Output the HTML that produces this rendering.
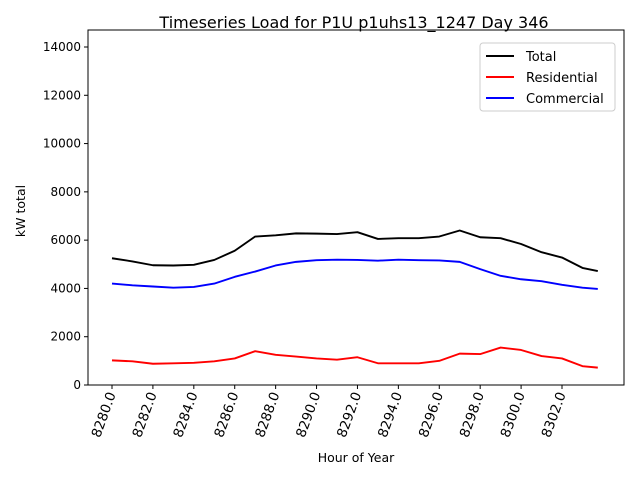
<!DOCTYPE html>
<html><head><meta charset="utf-8"><style>
body{margin:0;background:#fff;font-family:"Liberation Sans","DejaVu Sans",sans-serif}
svg text{font-family:"DejaVu Sans","Liberation Sans",sans-serif}
</style></head><body>
<svg id="chart" width="640" height="480" xmlns="http://www.w3.org/2000/svg">
<rect width="640" height="480" fill="#fff"/>
<g id="plot"></g>
</svg>
<script>
const hours=[8280,8281,8282,8283,8284,8285,8286,8287,8288,8289,8290,8291,8292,8293,8294,8295,8296,8297,8298,8299,8300,8301,8302,8303,8303.75];
const totalKw=[5250,5120,4960,4950,4980,5180,5560,6150,6200,6280,6270,6250,6330,6050,6080,6080,6150,6400,6120,6080,5840,5500,5280,4850,4720];
const residentialKw=[1020,980,880,900,920,980,1100,1400,1250,1180,1100,1050,1150,900,900,900,1000,1300,1280,1550,1450,1200,1100,780,720];
const commercialKw=[4200,4130,4080,4030,4060,4200,4480,4700,4950,5100,5170,5190,5180,5150,5190,5170,5160,5100,4800,4520,4380,4300,4150,4030,3980];
const xTicks=[8280,8282,8284,8286,8288,8290,8292,8294,8296,8298,8300,8302];
const yTicks=[0,2000,4000,6000,8000,10000,12000,14000];
const L=88,R=624,T=30,B=385;
const X=v=>112+(v-8280)*(562-112)/22;
const Y=v=>385-v*(385-47)/14000;
const NS="http://www.w3.org/2000/svg";
const g=document.getElementById('plot');
function mk(tag,attrs,parent){const e=document.createElementNS(NS,tag);for(const k in attrs)e.setAttribute(k,attrs[k]);(parent||g).appendChild(e);return e;}
function series(vals,color,name){
  const p=mk('polyline',{points:vals.map((v,i)=>X(hours[i])+','+Y(v)).join(' '),fill:'none',stroke:color,'stroke-width':1.9,'stroke-linejoin':'round'});
  
  
}
series(totalKw,'#000','total-line');
series(residentialKw,'#f00','residential-line');
series(commercialKw,'#00f','commercial-line');
const frame=mk('rect',{x:L,y:T,width:R-L,height:B-T,fill:'none',stroke:'#000','stroke-width':1});


xTicks.forEach(t=>{
  const x=X(t);
  mk('line',{x1:x,y1:B,x2:x,y2:B+4,stroke:'#000'});
  const tx=mk('text',{x:0,y:0,'font-size':13.5,'text-anchor':'end',transform:`translate(${x+4},${B+9}) rotate(-70)`});
  tx.textContent=t.toFixed(1);
  
  
});
yTicks.forEach(t=>{
  const y=Y(t);
  mk('line',{x1:L-4,y1:y,x2:L,y2:y,stroke:'#000'});
  const tx=mk('text',{x:L-7,y:y+4,'font-size':12,'text-anchor':'end'});
  tx.textContent=t;
  
  
});
const title=mk('text',{x:354,y:28,'font-size':16,'text-anchor':'middle'});
title.textContent='Timeseries Load for P1U p1uhs13_1247  Day 346';


const xl=mk('text',{x:356,y:462,'font-size':12.5,'text-anchor':'middle'});
xl.textContent='Hour of Year';


const yl=mk('text',{x:0,y:0,'font-size':12.5,'text-anchor':'middle',transform:'translate(25,211) rotate(-90)'});
yl.textContent='kW total';


const lg=mk('g',{});


mk('rect',{x:480,y:43,width:135,height:68,fill:'#fff',stroke:'#ccc',rx:3},lg);
[['Total','#000',56],['Residential','#f00',77],['Commercial','#00f',98]].forEach(([n,c,y])=>{
  mk('line',{x1:486,y1:y,x2:514,y2:y,stroke:c,'stroke-width':1.9},lg);
  const t=mk('text',{x:526,y:y+5,'font-size':13},lg);
  t.textContent=n;
  
  
});
</script>
</body></html>
